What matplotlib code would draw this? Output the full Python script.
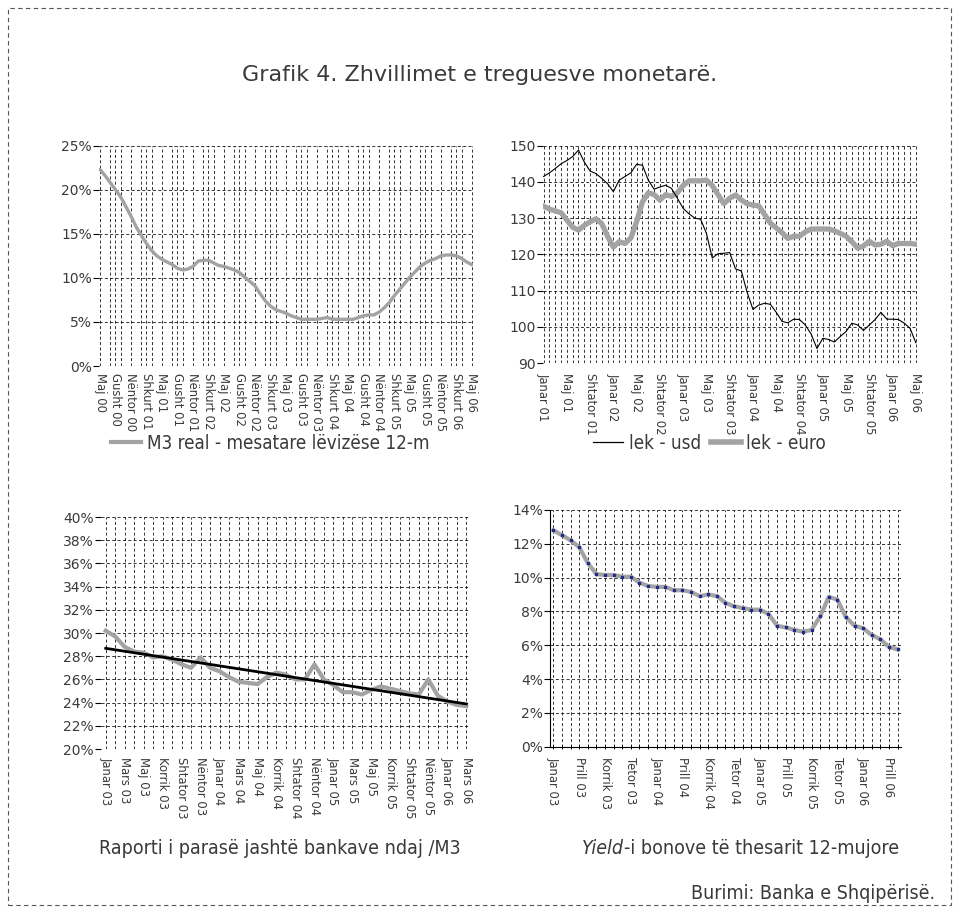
import matplotlib
matplotlib.use("Agg")
import matplotlib.pyplot as plt
import numpy as np
from matplotlib.patches import Rectangle
from matplotlib.lines import Line2D

plt.rcParams["font.family"] = ["DejaVu Sans"]

# --- M3 real, mesatare levizese 12-m (monthly, Maj 00 - Maj 06)
m3_real = [22.3, 21.6, 20.8, 20.0, 19.2, 18.1, 17.0, 15.8, 14.8, 13.9, 13.1, 12.5,
           12.1, 11.8, 11.5, 11.1, 10.9, 11.0, 11.3, 11.9, 12.0, 12.0, 11.7, 11.4,
           11.3, 11.1, 10.9, 10.6, 10.1, 9.6, 9.1, 8.2, 7.4, 6.8, 6.4, 6.2,
           6.0, 5.7, 5.5, 5.3, 5.3, 5.3, 5.3, 5.4, 5.5, 5.3, 5.3, 5.3,
           5.3, 5.3, 5.5, 5.7, 5.8, 5.8, 6.1, 6.6, 7.2, 8.0, 8.7, 9.4,
           10.1, 10.7, 11.3, 11.7, 12.0, 12.2, 12.5, 12.6, 12.6, 12.5, 12.2, 11.8,
           11.5]
m3_labels = ["Maj 00", "Gusht 00", "Nëntor 00", "Shkurt 01", "Maj 01", "Gusht 01",
             "Nëntor 01", "Shkurt 02", "Maj 02", "Gusht 02", "Nëntor 02", "Shkurt 03",
             "Maj 03", "Gusht 03", "Nëntor 03", "Shkurt 04", "Maj 04", "Gusht 04",
             "Nëntor 04", "Shkurt 05", "Maj 05", "Gusht 05", "Nëntor 05", "Shkurt 06",
             "Maj 06"]

# --- kursi i kembimit (monthly, Janar 01 - Maj 06)
lek_usd = [141.5, 142.5, 143.7, 145.0, 145.9, 147.0, 148.8, 145.5, 143.0, 142.3, 141.0, 139.5,
           137.3, 140.5, 141.5, 142.5, 144.9, 144.6, 140.5, 138.0, 138.6, 139.1, 138.2, 135.5,
           132.7, 131.2, 130.0, 129.7, 125.8, 119.0, 120.2, 120.3, 120.5, 116.0, 115.4, 109.5,
           104.8, 106.0, 106.5, 106.2, 104.0, 101.5, 101.1, 102.1, 102.0, 100.5, 98.0, 94.0,
           96.8, 96.5, 95.8, 97.3, 98.7, 101.0, 100.5, 99.0, 100.5, 102.0, 104.0, 102.1,
           102.1, 102.0, 101.0, 99.6, 95.6]
lek_euro = [133.3, 132.5, 132.0, 131.5, 129.5, 127.5, 126.7, 128.0, 129.0, 129.8, 128.5, 125.0,
            122.0, 123.5, 123.0, 124.5, 129.0, 134.5, 137.0, 136.5, 135.0, 136.5, 136.0, 137.0,
            139.0, 140.3, 140.3, 140.3, 140.5, 139.0, 136.5, 134.0, 135.5, 136.4, 135.0, 134.0,
            133.6, 133.4, 131.0, 128.6, 127.3, 126.0, 124.4, 125.0, 125.0, 126.2, 127.0, 127.0,
            127.0, 127.0, 126.5, 125.8, 125.0, 123.5, 121.7, 122.3, 123.6, 122.6, 122.8, 123.6,
            122.4, 123.0, 123.0, 123.0, 122.8]
fx_labels = ["Janar 01", "Maj 01", "Shtator 01", "Janar 02", "Maj 02", "Shtator 02",
             "Janar 03", "Maj 03", "Shtator 03", "Janar 04", "Maj 04", "Shtator 04",
             "Janar 05", "Maj 05", "Shtator 05", "Janar 06", "Maj 06"]

# --- paraja jashte bankave / M3 (monthly, Janar 03 - Mars 06)
cash_ratio = [30.2, 29.7, 28.8, 28.4, 28.3, 27.9, 28.0, 27.7, 27.3, 27.0, 27.9, 27.0,
              26.7, 26.2, 25.8, 25.7, 25.6, 26.2, 26.6, 26.4, 26.0, 26.0, 27.3, 26.0,
              25.5, 24.9, 24.9, 24.7, 25.1, 25.4, 25.2, 25.0, 24.8, 24.7, 26.0, 24.6,
              24.1, 23.8, 23.7]
cash_labels = ["Janar 03", "Mars 03", "Maj 03", "Korrik 03", "Shtator 03", "Nëntor 03",
               "Janar 04", "Mars 04", "Maj 04", "Korrik 04", "Shtator 04", "Nëntor 04",
               "Janar 05", "Mars 05", "Maj 05", "Korrik 05", "Shtator 05", "Nëntor 05",
               "Janar 06", "Mars 06"]

# --- yield bono 12-mujore (monthly, Janar 03 - Maj 06)
yield_12m = [12.8, 12.5, 12.2, 11.8, 10.85, 10.2, 10.15, 10.15, 10.05, 10.05, 9.7, 9.5,
             9.45, 9.45, 9.25, 9.25, 9.15, 8.9, 9.0, 8.9, 8.5, 8.3, 8.2, 8.1,
             8.1, 7.85, 7.15, 7.05, 6.9, 6.8, 6.9, 7.7, 8.85, 8.7, 7.65, 7.15,
             7.0, 6.6, 6.35, 5.9, 5.75]
yield_labels = ["Janar 03", "Prill 03", "Korrik 03", "Tetor 03", "Janar 04", "Prill 04",
                "Korrik 04", "Tetor 04", "Janar 05", "Prill 05", "Korrik 05", "Tetor 05",
                "Janar 06", "Prill 06"]

GRAY = "#a3a3a3"
TXT = "#3a3a3a"
DASH = (0, (4, 3))

fig = plt.figure(figsize=(9.59, 9.13), dpi=100)


def setup(ax, n, grid_step, label_step, labels, yticks, yfmt, xlim, ylim, pad=6):
    ax.set_xlim(*xlim)
    ax.set_ylim(*ylim)
    for s in ax.spines.values():
        s.set_visible(False)
    ax.set_xticks(np.arange(0, n, grid_step), minor=True)
    ax.set_xticks(np.arange(0, n, label_step))
    ax.set_xticklabels(labels, rotation=270, fontsize=8.4, color=TXT)
    ax.set_yticks(yticks)
    ax.set_yticklabels([yfmt.format(v) for v in yticks], fontsize=10, color=TXT)
    ax.tick_params(axis="x", which="both", length=0, pad=pad)
    ax.tick_params(axis="y", length=4, width=0.8, color="black", pad=1)
    ax.grid(True, which="both", axis="x", ls=DASH, color="black", lw=0.55)
    ax.grid(True, which="major", axis="y", ls=DASH, color="black", lw=0.55)
    ax.set_axisbelow(True)


# panel 1
ax1 = fig.add_axes([0.1032, 0.5991, 0.39, 0.2413])
x1 = np.arange(len(m3_real))
ax1.plot(x1, m3_real, color=GRAY, lw=2.4, solid_capstyle="round")
setup(ax1, len(m3_real), 2, 3, m3_labels, np.arange(0, 26, 5), "{}%",
      (-0.2, 72.2), (0, 25), pad=5)

# panel 2
ax2 = fig.add_axes([0.5662, 0.6024, 0.39, 0.238])
x2 = np.arange(len(lek_usd))
ax2.plot(x2, lek_euro, color=GRAY, lw=3.8)
ax2.plot(x2, lek_usd, color="black", lw=0.8)
setup(ax2, len(lek_usd), 1, 4, fx_labels, np.arange(90, 151, 10), "{}",
      (-0.1, 64.2), (90, 150), pad=7)

# panel 3
ax3 = fig.add_axes([0.1053, 0.1796, 0.3848, 0.2541])
x3 = np.arange(len(cash_ratio))
ax3.plot(x3, cash_ratio, color=GRAY, lw=3.0)
coef = np.polyfit(x3, cash_ratio, 1)
ax3.plot(x3, np.polyval(coef, x3), color="black", lw=2.0)
setup(ax3, len(cash_ratio), 1, 2, cash_labels, np.arange(20, 41, 2), "{}%",
      (-0.5, 38.4), (20, 40))

# panel 4
ax4 = fig.add_axes([0.5735, 0.1822, 0.366, 0.2593])
x4 = np.arange(len(yield_12m))
ax4.plot(x4, yield_12m, color=GRAY, lw=3.0)
ax4.plot(x4, yield_12m, ls="none", marker="s", ms=1.6, color="#1f2a8a")
setup(ax4, len(yield_12m), 1, 3, yield_labels, np.arange(0, 15, 2), "{}%",
      (-0.4, 40.4), (0, 14))
for side in ("left", "bottom"):
    ax4.spines[side].set_visible(True)
    ax4.spines[side].set_linewidth(0.8)
ax4.tick_params(axis="x", which="both", length=3, direction="inout",
                color="black", width=0.7)

# legends
leg_font = {"size": 13.5, "stretch": "condensed"}
fig.legend(handles=[Line2D([], [], color=GRAY, lw=3)],
           labels=["M3 real - mesatare lëvizëse 12-m"],
           loc="center", bbox_to_anchor=(0.282, 1 - 443 / 913), frameon=False,
           prop=leg_font, handlelength=1.6, handletextpad=0.3, labelcolor=TXT)
fig.legend(handles=[Line2D([], [], color="black", lw=0.9),
                    Line2D([], [], color=GRAY, lw=4)],
           labels=["lek - usd", "lek - euro"], ncol=2,
           loc="center", bbox_to_anchor=(0.740, 1 - 443 / 913), frameon=False,
           prop=leg_font, handlelength=1.6, handletextpad=0.3, columnspacing=0.5,
           labelcolor=TXT)

# captions
cap = {"fontsize": 14, "fontstretch": "condensed", "color": TXT}
fig.text(0.292, 1 - 848 / 913, "Raporti i parasë jashtë bankave ndaj /M3",
         ha="center", va="center", **cap)
t = fig.text(582 / 959, 1 - 848 / 913, "Yield", style="italic",
             ha="left", va="center", **cap)
ax4.annotate("-i bonove të thesarit 12-mujore", xy=(1, 0), xycoords=t,
             va="bottom", ha="left", **cap)

fig.text(0.5, 1 - 75 / 913, "Grafik 4. Zhvillimet e treguesve monetarë.",
         ha="center", va="center", fontsize=16, color=TXT)
fig.text(935 / 959, 1 - 893 / 913, "Burimi: Banka e Shqipërisë.",
         ha="right", va="center", **cap)

fig.patches.append(Rectangle((8 / 959, 8 / 913), 943 / 959, 897 / 913,
                             transform=fig.transFigure, fill=False,
                             ec="#555555", lw=0.8, ls=(0, (4, 3))))

fig.savefig("out.png", dpi=100)
